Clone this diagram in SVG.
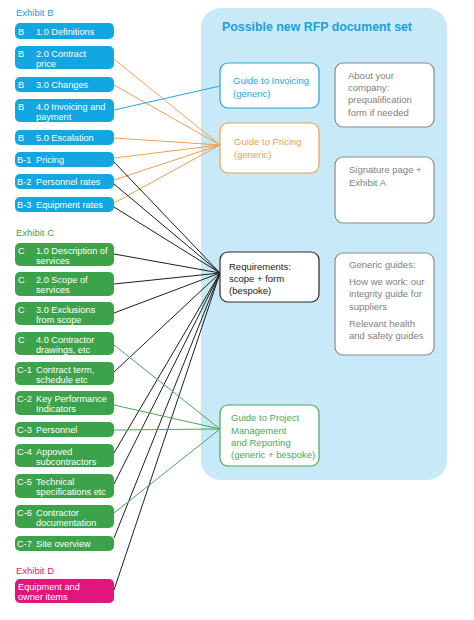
<svg xmlns="http://www.w3.org/2000/svg" width="474" height="620" viewBox="0 0 474 620">
<style>
text{font-family:"Liberation Sans",Arial,sans-serif}
.lt{font-size:9.2px;fill:#fff}
.ex{font-size:9.5px}
.bb{fill:#12a6e3}
.gb{fill:#3da34b}
.rb{fill:#fff;stroke-width:1.2}
.rt{font-size:9.5px}
.c line{stroke-width:1}
.o line{stroke:#f0a04e}
.k line{stroke:#1e1e1e}
.g line{stroke:#4aa85a}
.b line{stroke:#22a6de}
</style>
<rect width="474" height="620" fill="#fff"/>
<rect x="201" y="8" width="246" height="472" rx="20" fill="#c8e9f8"/>
<text x="222" y="31" font-size="13" font-weight="bold" fill="#1aa0dc" textLength="190" lengthAdjust="spacingAndGlyphs">Possible new RFP document set</text>

<text class="ex" x="16" y="16" fill="#1aa0dc">Exhibit B</text>
<text class="ex" x="16" y="236" fill="#3da34b">Exhibit C</text>
<text class="ex" x="16" y="574" fill="#e2157c">Exhibit D</text>

<g id="connectors" class="c">
<g class="o">
<line x1="114" y1="59" x2="220" y2="145"/>
<line x1="114" y1="85" x2="220" y2="145"/>
<line x1="114" y1="138" x2="220" y2="145"/>
<line x1="114" y1="158" x2="220" y2="145"/>
<line x1="114" y1="180" x2="220" y2="145"/>
<line x1="114" y1="203" x2="220" y2="145"/>
</g>
<g class="b"><line x1="114" y1="110" x2="220" y2="86"/></g>
<g class="k">
<line x1="114" y1="162" x2="220" y2="273"/>
<line x1="114" y1="184" x2="220" y2="273"/>
<line x1="114" y1="207" x2="220" y2="273"/>
<line x1="114" y1="254" x2="220" y2="273"/>
<line x1="114" y1="284" x2="220" y2="273"/>
<line x1="114" y1="313" x2="220" y2="273"/>
<line x1="114" y1="372" x2="220" y2="273"/>
<line x1="114" y1="453" x2="220" y2="273"/>
<line x1="114" y1="484" x2="220" y2="273"/>
<line x1="114" y1="538" x2="220" y2="273"/>
<line x1="114" y1="590" x2="220" y2="273"/>
</g>
<g class="g">
<line x1="114" y1="345" x2="220" y2="429"/>
<line x1="114" y1="405" x2="220" y2="429"/>
<line x1="114" y1="430" x2="220" y2="429"/>
<line x1="114" y1="513" x2="220" y2="429"/>
</g>
</g>

<g id="b1"><rect class="bb" x="15" y="23" width="99" height="16" rx="5"/><text class="lt" x="18" y="34.5">B</text><text class="lt" x="36" y="34.5">1.0 Definitions</text></g>
<g id="b2"><rect class="bb" x="15" y="46" width="99" height="23" rx="5"/><text class="lt" x="18" y="56.5">B</text><text class="lt" x="36" y="56.5">2.0 Contract</text><text class="lt" x="36" y="66.5">price</text></g>
<g id="b3"><rect class="bb" x="15" y="77" width="99" height="15" rx="5"/><text class="lt" x="18" y="88">B</text><text class="lt" x="36" y="88">3.0 Changes</text></g>
<g id="b4"><rect class="bb" x="15" y="99" width="99" height="23" rx="5"/><text class="lt" x="18" y="109.5">B</text><text class="lt" x="36" y="109.5">4.0 Invoicing and</text><text class="lt" x="36" y="119.5">payment</text></g>
<g id="b5"><rect class="bb" x="15" y="130" width="99" height="15" rx="5"/><text class="lt" x="18" y="141">B</text><text class="lt" x="36" y="141">5.0 Escalation</text></g>
<g id="bx1"><rect class="bb" x="15" y="152" width="99" height="15" rx="5"/><text class="lt" x="17" y="163">B-1</text><text class="lt" x="36" y="163">Pricing</text></g>
<g id="bx2"><rect class="bb" x="15" y="174" width="99" height="15" rx="5"/><text class="lt" x="17" y="185">B-2</text><text class="lt" x="36" y="185">Personnel rates</text></g>
<g id="bx3"><rect class="bb" x="15" y="197" width="99" height="15" rx="5"/><text class="lt" x="17" y="208">B-3</text><text class="lt" x="36" y="208">Equipment rates</text></g>

<g id="c1"><rect class="gb" x="15" y="243" width="99" height="23" rx="5"/><text class="lt" x="18" y="253.5">C</text><text class="lt" x="36" y="253.5">1.0 Description of</text><text class="lt" x="36" y="263.5">services</text></g>
<g id="c2"><rect class="gb" x="15" y="272" width="99" height="24" rx="5"/><text class="lt" x="18" y="283">C</text><text class="lt" x="36" y="283">2.0 Scope of</text><text class="lt" x="36" y="293">services</text></g>
<g id="c3"><rect class="gb" x="15" y="302" width="99" height="23" rx="5"/><text class="lt" x="18" y="312.5">C</text><text class="lt" x="36" y="312.5">3.0 Exclusions</text><text class="lt" x="36" y="322.5">from scope</text></g>
<g id="c4"><rect class="gb" x="15" y="332" width="99" height="23" rx="5"/><text class="lt" x="18" y="342.5">C</text><text class="lt" x="36" y="342.5">4.0 Contractor</text><text class="lt" x="36" y="352.5">drawings, etc</text></g>
<g id="cx1"><rect class="gb" x="15" y="362" width="99" height="23" rx="5"/><text class="lt" x="17" y="372.5">C-1</text><text class="lt" x="36" y="372.5">Contract term,</text><text class="lt" x="36" y="382.5">schedule etc</text></g>
<g id="cx2"><rect class="gb" x="15" y="391" width="99" height="24" rx="5"/><text class="lt" x="17" y="402">C-2</text><text class="lt" x="36" y="402">Key Performance</text><text class="lt" x="36" y="412">Indicators</text></g>
<g id="cx3"><rect class="gb" x="15" y="422" width="99" height="15" rx="5"/><text class="lt" x="17" y="433">C-3</text><text class="lt" x="36" y="433">Personnel</text></g>
<g id="cx4"><rect class="gb" x="15" y="444" width="99" height="23" rx="5"/><text class="lt" x="17" y="454.5">C-4</text><text class="lt" x="36" y="454.5">Appoved</text><text class="lt" x="36" y="464.5">subcontractors</text></g>
<g id="cx5"><rect class="gb" x="15" y="474" width="99" height="24" rx="5"/><text class="lt" x="17" y="485">C-5</text><text class="lt" x="36" y="485">Technical</text><text class="lt" x="36" y="495">specifications etc</text></g>
<g id="cx6"><rect class="gb" x="15" y="505" width="99" height="23" rx="5"/><text class="lt" x="17" y="515.5">C-6</text><text class="lt" x="36" y="515.5">Contractor</text><text class="lt" x="36" y="525.5">documentation</text></g>
<g id="cx7"><rect class="gb" x="15" y="536" width="99" height="15" rx="5"/><text class="lt" x="17" y="547">C-7</text><text class="lt" x="36" y="547">Site overview</text></g>
<g id="d1"><rect x="15" y="579" width="99" height="24" rx="5" fill="#e2157c"/><text class="lt" x="18" y="590">Equipment and</text><text class="lt" x="18" y="600">owner items</text></g>

<g id="invoicing"><rect class="rb" x="220" y="63" width="99" height="45" rx="8" stroke="#22a6de"/><text class="rt" x="233" y="84" fill="#22a6de">Guide to Invoicing</text><text class="rt" x="233" y="97" fill="#22a6de">(generic)</text></g>
<g id="pricing"><rect class="rb" x="220" y="123" width="99" height="50" rx="8" stroke="#f0a04e"/><text class="rt" x="234" y="145" fill="#f0a04e">Guide to Pricing</text><text class="rt" x="234" y="158" fill="#f0a04e">(generic)</text></g>
<g id="requirements"><rect class="rb" x="220" y="252" width="99" height="50" rx="8" stroke="#2a2a2a"/><text class="rt" x="229" y="270" fill="#222">Requirements:</text><text class="rt" x="229" y="282" fill="#222">scope + form</text><text class="rt" x="229" y="294" fill="#222">(bespoke)</text></g>
<g id="project"><rect class="rb" x="220" y="405" width="99" height="61" rx="8" stroke="#4aa85a"/><text class="rt" x="231" y="421" fill="#4aa85a">Guide to Project</text><text class="rt" x="231" y="434" fill="#4aa85a">Management</text><text class="rt" x="231" y="446" fill="#4aa85a">and Reporting</text><text class="rt" x="231" y="458" fill="#4aa85a">(generic + bespoke)</text></g>
<g id="company"><rect class="rb" x="335" y="63" width="99" height="64" rx="8" stroke="#8a8a8a"/><text class="rt" x="348" y="79" fill="#808080">About your</text><text class="rt" x="348" y="91" fill="#808080">company:</text><text class="rt" x="348" y="103" fill="#808080">prequalification</text><text class="rt" x="348" y="116" fill="#808080">form if needed</text></g>
<g id="signature"><rect class="rb" x="335" y="157" width="99" height="66" rx="8" stroke="#8a8a8a"/><text class="rt" x="349" y="173" fill="#808080">Signature page +</text><text class="rt" x="349" y="186" fill="#808080">Exhibit A</text></g>
<g id="generic"><rect class="rb" x="335" y="253" width="99" height="102" rx="8" stroke="#8a8a8a"/><text class="rt" x="349" y="268" fill="#808080">Generic guides:</text><text class="rt" x="349" y="285" fill="#808080">How we work: our</text><text class="rt" x="349" y="297" fill="#808080">integrity guide for</text><text class="rt" x="349" y="310" fill="#808080">suppliers</text><text class="rt" x="349" y="327" fill="#808080">Relevant health</text><text class="rt" x="349" y="339" fill="#808080">and safety guides</text></g>
</svg>
